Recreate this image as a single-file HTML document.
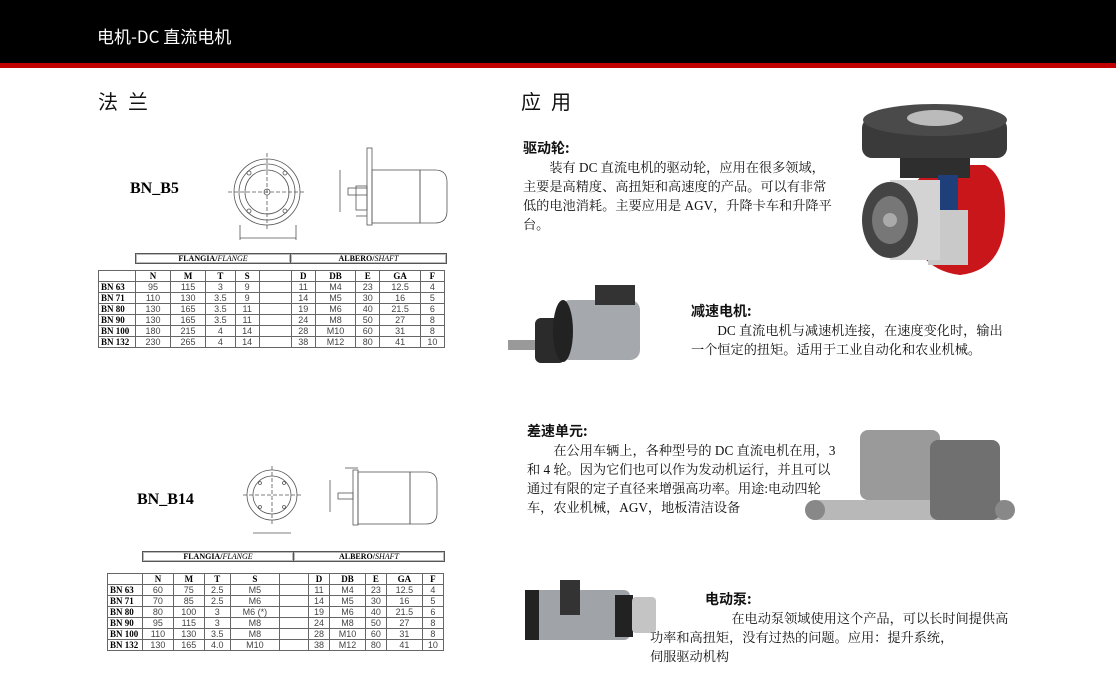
<!DOCTYPE html>
<html><head><meta charset="utf-8"><style>
*{margin:0;padding:0}
body{width:1116px;height:690px;position:relative;background:#fff;overflow:hidden;font-family:"Liberation Serif","Noto Serif CJK SC",serif;}
.hdr{position:absolute;left:0;top:0;width:1116px;height:63px;background:#000;}
.red{position:absolute;left:0;top:63px;width:1116px;height:5px;background:#c00000;}
.ht{position:absolute;left:97px;top:23px;color:#fff;font:17px "Noto Sans CJK SC",sans-serif;}
.h2{position:absolute;font:20px "Noto Sans CJK SC",sans-serif;letter-spacing:10px;color:#111}
.t{position:absolute;font-size:13.2px;line-height:19px;color:#111;white-space:nowrap}
.t b{font-family:"Noto Sans CJK SC",sans-serif;font-weight:700;font-size:14px}
table{position:absolute;border-collapse:collapse;font:9px "Liberation Sans",sans-serif;color:#444}
td,th{border:1px solid #666;text-align:center;padding:0;height:10px;line-height:10px}
td.l,th.l{font-family:"Liberation Serif",serif;font-weight:bold;color:#000;text-align:left;padding-left:2px}
th{font-family:"Liberation Serif",serif;font-weight:bold;color:#000}
.bar{position:absolute;border:1px solid #555;box-shadow:inset 0 0 0 1px #bbb;font:bold 8px "Liberation Serif",serif;text-align:center;line-height:9px}
.lbl{position:absolute;font:bold 16px "Liberation Serif",serif}
</style></head><body>
<div class="hdr"></div><div class="red"></div>
<div class="ht">电机-DC 直流电机</div>
<div class="h2" style="left:98px;top:86px">法兰</div>
<div class="h2" style="left:521px;top:86px">应用</div>

<div class="lbl" style="left:130px;top:180px">BN_B5</div>
<div class="lbl" style="left:137px;top:491px">BN_B14</div>

<svg style="position:absolute;left:0;top:0" width="1116" height="690" fill="none" stroke="#555" stroke-width="0.8">
<circle cx="267" cy="192" r="33"/><circle cx="267" cy="192" r="28"/><circle cx="267" cy="192" r="22"/>
<line x1="228" y1="192" x2="306" y2="192" stroke-dasharray="4 2"/><line x1="267" y1="153" x2="267" y2="231" stroke-dasharray="4 2"/>
<circle cx="249" cy="173" r="2"/><circle cx="285" cy="173" r="2"/><circle cx="249" cy="211" r="2"/><circle cx="285" cy="211" r="2"/>
<circle cx="267" cy="192" r="3"/><line x1="240" y1="238" x2="296" y2="238"/><line x1="240" y1="225" x2="240" y2="240"/><line x1="296" y1="225" x2="296" y2="240"/>
<rect x="367" y="148" width="5" height="77"/><rect x="372" y="170" width="48" height="53"/><path d="M420 170h15q12 0 12 12v29q0 12-12 12h-15z"/>
<rect x="348" y="188" width="19" height="7"/><rect x="356" y="186" width="11" height="24"/><line x1="340" y1="170" x2="340" y2="212"/><line x1="356" y1="216" x2="367" y2="216"/>
<circle cx="272" cy="495" r="25"/><circle cx="272" cy="495" r="19"/>
<line x1="243" y1="495" x2="301" y2="495" stroke-dasharray="4 2"/><line x1="272" y1="466" x2="272" y2="524" stroke-dasharray="4 2"/>
<circle cx="260" cy="483" r="1.5"/><circle cx="284" cy="483" r="1.5"/><circle cx="260" cy="507" r="1.5"/><circle cx="284" cy="507" r="1.5"/>
<line x1="253" y1="533" x2="291" y2="533"/>
<rect x="353" y="470" width="5" height="55"/><rect x="358" y="472" width="52" height="52"/><path d="M410 472h16q11 0 11 11v30q0 11-11 11h-16z"/>
<rect x="338" y="493" width="15" height="6"/><line x1="330" y1="480" x2="330" y2="512"/><line x1="345" y1="468" x2="358" y2="468"/>
</svg>

<div class="bar" style="left:135px;top:253px;width:154px;height:9px">FLANGIA/<i style="font-weight:normal">FLANGE</i></div>
<div class="bar" style="left:290px;top:253px;width:155px;height:9px">ALBERO/<i style="font-weight:normal">SHAFT</i></div>
<table style="left:98px;top:270px;width:347px">
<tr><td style="width:36px"></td><th>N</th><th>M</th><th>T</th><th>S</th><td style="width:31px"></td><th>D</th><th>DB</th><th>E</th><th>GA</th><th>F</th></tr>
<tr><td class="l">BN 63</td><td>95</td><td>115</td><td>3</td><td>9</td><td></td><td>11</td><td>M4</td><td>23</td><td>12.5</td><td>4</td></tr>
<tr><td class="l">BN 71</td><td>110</td><td>130</td><td>3.5</td><td>9</td><td></td><td>14</td><td>M5</td><td>30</td><td>16</td><td>5</td></tr>
<tr><td class="l">BN 80</td><td>130</td><td>165</td><td>3.5</td><td>11</td><td></td><td>19</td><td>M6</td><td>40</td><td>21.5</td><td>6</td></tr>
<tr><td class="l">BN 90</td><td>130</td><td>165</td><td>3.5</td><td>11</td><td></td><td>24</td><td>M8</td><td>50</td><td>27</td><td>8</td></tr>
<tr><td class="l">BN 100</td><td>180</td><td>215</td><td>4</td><td>14</td><td></td><td>28</td><td>M10</td><td>60</td><td>31</td><td>8</td></tr>
<tr><td class="l">BN 132</td><td>230</td><td>265</td><td>4</td><td>14</td><td></td><td>38</td><td>M12</td><td>80</td><td>41</td><td>10</td></tr>
</table>

<div class="bar" style="left:142px;top:551px;width:150px;height:9px">FLANGIA/<i style="font-weight:normal">FLANGE</i></div>
<div class="bar" style="left:293px;top:551px;width:150px;height:9px">ALBERO/<i style="font-weight:normal">SHAFT</i></div>
<table style="left:107px;top:573px;width:337px">
<tr><td style="width:34px"></td><th>N</th><th>M</th><th>T</th><th>S</th><td style="width:28px"></td><th>D</th><th>DB</th><th>E</th><th>GA</th><th>F</th></tr>
<tr><td class="l">BN 63</td><td>60</td><td>75</td><td>2.5</td><td>M5</td><td></td><td>11</td><td>M4</td><td>23</td><td>12.5</td><td>4</td></tr>
<tr><td class="l">BN 71</td><td>70</td><td>85</td><td>2.5</td><td>M6</td><td></td><td>14</td><td>M5</td><td>30</td><td>16</td><td>5</td></tr>
<tr><td class="l">BN 80</td><td>80</td><td>100</td><td>3</td><td>M6 (*)</td><td></td><td>19</td><td>M6</td><td>40</td><td>21.5</td><td>6</td></tr>
<tr><td class="l">BN 90</td><td>95</td><td>115</td><td>3</td><td>M8</td><td></td><td>24</td><td>M8</td><td>50</td><td>27</td><td>8</td></tr>
<tr><td class="l">BN 100</td><td>110</td><td>130</td><td>3.5</td><td>M8</td><td></td><td>28</td><td>M10</td><td>60</td><td>31</td><td>8</td></tr>
<tr><td class="l">BN 132</td><td>130</td><td>165</td><td>4.0</td><td>M10</td><td></td><td>38</td><td>M12</td><td>80</td><td>41</td><td>10</td></tr>
</table>

<svg style="position:absolute;left:0;top:0" width="1116" height="690">
<!-- drive wheel -->
<path d="M905 215 q5 -50 50 -50 l30 0 q20 10 20 50 q0 55 -45 60 q-45 -5 -55 -60z" fill="#c8161b"/>
<rect x="862" y="118" width="145" height="40" rx="10" fill="#3a3a3a"/>
<ellipse cx="935" cy="120" rx="72" ry="16" fill="#4a4a4a"/><ellipse cx="935" cy="118" rx="28" ry="8" fill="#bbb"/>
<rect x="900" y="158" width="70" height="20" fill="#2e2e2e"/>
<rect x="938" y="175" width="20" height="45" fill="#1f3f7a"/>
<rect x="928" y="210" width="40" height="55" fill="#c9c9c9"/>
<rect x="890" y="180" width="50" height="80" fill="#d3d3d3"/><ellipse cx="890" cy="220" rx="28" ry="38" fill="#444"/><ellipse cx="890" cy="220" rx="18" ry="24" fill="#777"/><circle cx="890" cy="220" r="7" fill="#aaa"/>
<!-- reducer motor -->
<rect x="508" y="340" width="30" height="10" fill="#999"/>
<rect x="535" y="318" width="30" height="45" rx="6" fill="#2b2b2b"/>
<rect x="560" y="300" width="80" height="60" rx="10" fill="#a5a8ad"/><ellipse cx="563" cy="331" rx="10" ry="31" fill="#222"/>
<rect x="595" y="285" width="40" height="20" fill="#333"/>
<!-- differential -->
<rect x="810" y="500" width="200" height="20" rx="6" fill="#b8b8b8"/>
<rect x="860" y="430" width="80" height="70" rx="8" fill="#9a9a9a"/><rect x="930" y="440" width="70" height="80" rx="8" fill="#707070"/>
<circle cx="815" cy="510" r="10" fill="#888"/><circle cx="1005" cy="510" r="10" fill="#888"/>
<!-- pump -->
<rect x="530" y="590" width="100" height="50" rx="6" fill="#a0a3a7"/><rect x="525" y="590" width="14" height="50" fill="#222"/>
<rect x="615" y="595" width="18" height="42" fill="#222"/><rect x="632" y="597" width="24" height="36" rx="4" fill="#c4c4c4"/>
<rect x="560" y="580" width="20" height="35" fill="#333"/>
</svg>

<div class="t" style="left:523px;top:139px"><b>驱动轮:</b><br>　　装有 DC 直流电机的驱动轮，应用在很多领域，<br>主要是高精度、高扭矩和高速度的产品。可以有非常<br>低的电池消耗。主要应用是 AGV，升降卡车和升降平<br>台。</div>
<div class="t" style="left:691px;top:302px"><b>减速电机:</b><br>　　DC 直流电机与减速机连接，在速度变化时，输出<br>一个恒定的扭矩。适用于工业自动化和农业机械。</div>
<div class="t" style="left:527px;top:422px"><b>差速单元:</b><br>　　在公用车辆上，各种型号的 DC 直流电机在用，3<br>和 4 轮。因为它们也可以作为发动机运行，并且可以<br>通过有限的定子直径来增强高功率。用途:电动四轮<br>车，农业机械，AGV，地板清洁设备</div>
<div class="t" style="left:705px;top:590px"><b>电动泵:</b><br>　　在电动泵领域使用这个产品，可以长时间提供高<br><span style="margin-left:-55px">功率和高扭矩，没有过热的问题。应用：提升系统，</span><br><span style="margin-left:-55px">伺服驱动机构</span></div>
</body></html>
